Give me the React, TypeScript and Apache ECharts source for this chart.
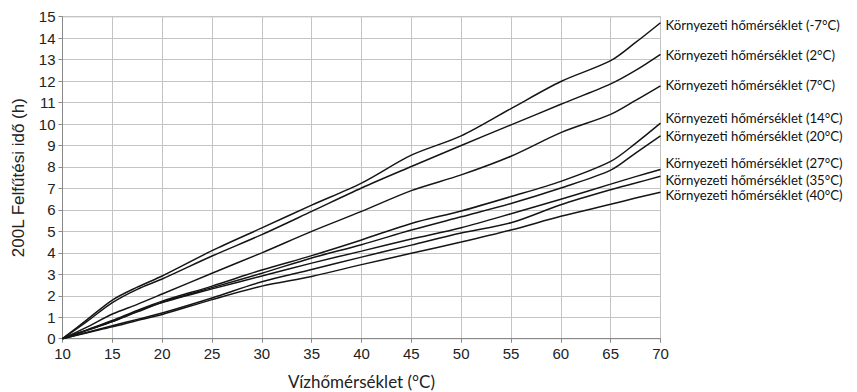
import React, { useEffect, useRef } from "react";
import * as echarts from "echarts";

const waterTemps = [10, 12.5, 15, 17.5, 20, 25, 30, 35, 40, 45, 50, 55, 60, 65, 67.5, 70];

const seriesNames = [
  "Környezeti hőmérséklet (-7°C)",
  "Környezeti hőmérséklet (2°C)",
  "Környezeti hőmérséklet (7°C)",
  "Környezeti hőmérséklet (14°C)",
  "Környezeti hőmérséklet (20°C)",
  "Környezeti hőmérséklet (27°C)",
  "Környezeti hőmérséklet (35°C)",
  "Környezeti hőmérséklet (40°C)",
];

const ambientM7 = [0, 0.9, 1.8, 2.4, 2.92, 4.1, 5.16, 6.22, 7.25, 8.55, 9.45, 10.72, 11.98, 12.95, 13.8, 14.72];
const ambient2 = [0, 0.82, 1.68, 2.3, 2.78, 3.85, 4.85, 5.93, 7.02, 8.02, 9.0, 9.96, 10.92, 11.87, 12.5, 13.25];
const ambient7 = [0, 0.55, 1.15, 1.6, 2.08, 3.05, 4.0, 5.0, 5.93, 6.9, 7.63, 8.5, 9.6, 10.45, 11.1, 11.78];
const ambient14 = [0, 0.42, 0.85, 1.32, 1.75, 2.45, 3.2, 3.87, 4.6, 5.37, 5.95, 6.62, 7.33, 8.26, 9.1, 10.04];
const ambient20 = [0, 0.4, 0.8, 1.28, 1.7, 2.38, 3.05, 3.76, 4.38, 5.06, 5.68, 6.3, 7.02, 7.85, 8.65, 9.45];
const ambient27 = [0, 0.4, 0.8, 1.25, 1.68, 2.32, 2.92, 3.52, 4.08, 4.64, 5.17, 5.82, 6.5, 7.2, 7.55, 7.88];
const ambient35 = [0, 0.3, 0.6, 0.9, 1.2, 1.9, 2.65, 3.22, 3.8, 4.36, 4.92, 5.4, 6.24, 6.94, 7.25, 7.57];
const ambient40 = [0, 0.28, 0.55, 0.85, 1.13, 1.82, 2.45, 2.9, 3.45, 3.98, 4.5, 5.06, 5.7, 6.26, 6.55, 6.82];

const allSeries = [ambientM7, ambient2, ambient7, ambient14, ambient20, ambient27, ambient35, ambient40];
const labelOffsets = [2, 1, -1, -5, 0, -7, 3.5, 2.5];

export default function App() {
  const ref = useRef<HTMLDivElement>(null);
  useEffect(() => {
    if (!ref.current) return;
    const chart = echarts.init(ref.current, undefined, { renderer: "svg" });
    chart.setOption({
      animation: false,
      grid: {
        left: 54.5,
        top: 8.7,
        width: 598,
        height: 322,
        containLabel: false,
        outerBoundsMode: "none",
        show: true,
        borderColor: "#8a8a8a",
        borderWidth: 1,
        backgroundColor: "transparent",
      },
      xAxis: {
        type: "value",
        min: 10,
        max: 70,
        interval: 5,
        name: "Vízhőmérséklet (°C)",
        nameLocation: "middle",
        nameGap: 34,
        nameTextStyle: { fontFamily: "Lato", fontSize: 17, color: "#222" },
        axisLine: { show: true, lineStyle: { color: "#8a8a8a" } },
        axisTick: { show: true, length: 4, lineStyle: { color: "#8a8a8a" } },
        axisLabel: { fontFamily: "Liberation Sans", fontSize: 15, color: "#222", margin: 7 },
        splitLine: { show: true, lineStyle: { color: "#c4c4c4" } },
      },
      yAxis: {
        type: "value",
        min: 0,
        max: 15,
        interval: 1,
        name: "200L Felfűtési idő (h)",
        nameLocation: "middle",
        nameGap: 36,
        nameRotate: 90,
        nameTextStyle: { fontFamily: "Liberation Sans", fontSize: 17, color: "#222" },
        axisLine: { show: true, lineStyle: { color: "#8a8a8a" } },
        axisTick: { show: true, length: 4, lineStyle: { color: "#8a8a8a" } },
        axisLabel: { fontFamily: "Liberation Sans", fontSize: 15, color: "#222", margin: 7 },
        splitLine: { show: true, lineStyle: { color: "#c4c4c4" } },
      },
      series: allSeries.map((vals, i) => ({
        type: "line",
        name: seriesNames[i],
        data: waterTemps.map((x, j) => [x, vals[j]]),
        smooth: 0.3,
        symbol: "none",
        lineStyle: { color: "#151515", width: 1.5 },
        endLabel: {
          show: true,
          formatter: seriesNames[i],
          fontFamily: "Lato",
          fontSize: 13.2,
          color: "#111",
          distance: 5,
          offset: [0, labelOffsets[i]],
        },
      })),
    });
    return () => chart.dispose();
  }, []);
  return <div ref={ref} style={{ width: 849, height: 384 }} />;
}
